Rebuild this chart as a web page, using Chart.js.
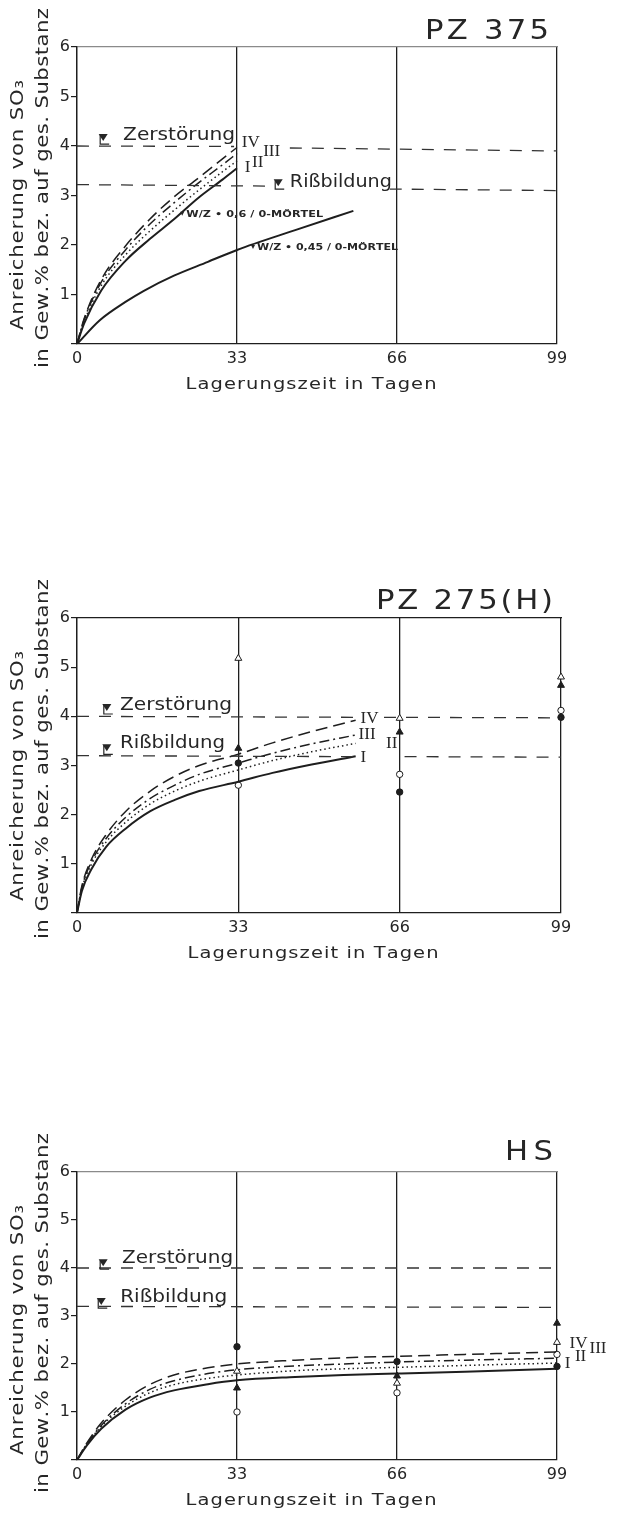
<!DOCTYPE html>
<html>
<head>
<meta charset="utf-8">
<script src="https://cdn.jsdelivr.net/npm/chart.js@4.4.1/dist/chart.umd.min.js"></script>
<style>
  body { margin: 0; background: #fff; width: 617px; height: 1516px; position: relative; overflow: hidden; }
  .panel { position: absolute; left: 0; width: 617px; }
</style>
</head>
<body>
<div class="panel" style="top:0;height:400px"><canvas id="pz375" width="617" height="400"></canvas></div>
<div class="panel" style="top:540px;height:440px"><canvas id="pz275" width="617" height="440"></canvas></div>
<div class="panel" style="top:1090px;height:426px"><canvas id="hs" width="617" height="426"></canvas></div>
<script>
// --- PZ 375 ---
const pz375Days = [0, 1.5, 5, 10, 15, 20, 25, 30, 33];
const pz375I = [0, 0.42, 1.08, 1.68, 2.12, 2.52, 2.95, 3.32, 3.55];
const pz375II = [0, 0.46, 1.18, 1.8, 2.28, 2.7, 3.1, 3.48, 3.7];
const pz375III = [0, 0.5, 1.25, 1.9, 2.42, 2.85, 3.25, 3.62, 3.85];
const pz375IV = [0, 0.52, 1.3, 1.98, 2.52, 2.97, 3.35, 3.74, 3.97];
const pz375Wz045Days = [0, 4.7, 10, 13.7, 20, 27, 33, 45, 57];
const pz375Wz045 = [0, 0.48, 0.85, 1.07, 1.38, 1.66, 1.9, 2.3, 2.69];
const pz375ZerstDays = [0, 32.4, 38, 43.9, 99];
const pz375Zerst = [4.0, 3.99, null, 3.96, 3.9];
const pz375RissDays = [0, 39.5, 50, 64.5, 99];
const pz375Riss = [3.22, 3.19, null, 3.13, 3.1];

// --- PZ 275 (H) ---
const pz275Days = [0, 1, 3, 6, 10, 15, 20, 25, 33, 40, 48, 57];
const pz275I = [0, 0.45, 0.9, 1.35, 1.72, 2.07, 2.3, 2.48, 2.67, 2.85, 3.02, 3.19];
const pz275II = [0, 0.5, 1.0, 1.45, 1.85, 2.22, 2.48, 2.68, 2.91, 3.1, 3.28, 3.45];
const pz275III = [0, 0.52, 1.05, 1.52, 1.95, 2.33, 2.6, 2.82, 3.05, 3.25, 3.44, 3.62];
const pz275IV = [0, 0.55, 1.1, 1.6, 2.07, 2.48, 2.78, 3.0, 3.23, 3.46, 3.69, 3.92];
const pz275MeasureDays = [33, 66, 99];
const pz275FilledCircle = [3.05, 2.46, 3.98];
const pz275OpenCircle = [2.6, 2.82, 4.12];
const pz275FilledTriangle = [3.35, 3.68, 4.63];
const pz275OpenTriangle = [5.18, 3.96, 4.8];
const pz275ZerstDays = [0, 57.5, 60, 62.8, 99];
const pz275Zerst = [4.0, 3.98, null, 3.98, 3.97];
const pz275RissDays = [0, 57.3, 62, 67, 99];
const pz275Riss = [3.2, 3.18, null, 3.18, 3.17];

// --- HS ---
const hsDays = [0, 2, 5, 10, 15, 20, 27, 33, 45, 55, 66, 80, 99];
const hsI = [0, 0.3, 0.65, 1.05, 1.3, 1.45, 1.58, 1.66, 1.73, 1.77, 1.8, 1.84, 1.9];
const hsII = [0, 0.32, 0.7, 1.12, 1.4, 1.57, 1.7, 1.77, 1.86, 1.9, 1.93, 1.97, 2.02];
const hsIII = [0, 0.33, 0.72, 1.17, 1.47, 1.65, 1.8, 1.88, 1.96, 2.0, 2.04, 2.08, 2.12];
const hsIV = [0, 0.35, 0.77, 1.25, 1.57, 1.77, 1.92, 2.0, 2.08, 2.13, 2.16, 2.2, 2.25];
const hsMeasureDays = [33, 66, 99];
const hsFilledCircle = [2.36, 2.05, 1.95];
const hsOpenCircle = [1.0, 1.4, 2.2];
const hsFilledTriangle = [1.5, 1.75, 2.85];
const hsOpenTriangle = [1.85, 1.6, 2.45];
const hsZerstDays = [0, 99];
const hsZerst = [4.0, 4.0];
const hsRissDays = [0, 99];
const hsRiss = [3.2, 3.18];

const xTickValues = [0, 33, 66, 99];

const SANS = '"DejaVu Sans", sans-serif';
const SERIF = '"Liberation Serif", serif';
const INK = '#1e1e1e';
const TEXT = '#262626';

const SOLID = [];
const DOTTED = [1.5, 3];
const DASHDOT = [10, 4, 2, 4];
const DASHED = [12, 6];
const LEVEL_DASH = [12, 10];

function curve(days, values, dash, width) {
  return {
    type: 'line',
    data: days.map((d, i) => ({ x: d, y: values[i] })),
    borderColor: INK,
    borderWidth: width || 1.5,
    borderDash: dash,
    pointRadius: 0,
    cubicInterpolationMode: 'monotone',
    fill: false,
  };
}

function level(days, values) {
  return {
    type: 'line',
    data: days.map((d, i) => ({ x: d, y: values[i] })),
    borderColor: '#333',
    borderWidth: 1.3,
    borderDash: LEVEL_DASH,
    pointRadius: 0,
    tension: 0,
    spanGaps: false,
    fill: false,
  };
}

function measured(days, values, shape, filled) {
  return {
    type: 'scatter',
    data: days.map((d, i) => ({ x: d, y: values[i] })),
    pointStyle: shape,
    pointRadius: shape === 'triangle' ? 4 : 3.2,
    pointBackgroundColor: filled ? INK : '#fff',
    pointBorderColor: INK,
    pointBorderWidth: 1,
    clip: false,
  };
}

// text fitted to a width: stretch the glyphs a little, spread the rest
function spaced(ctx, text, x, y, font, width, align) {
  ctx.font = font;
  const chars = Array.from(text);
  const widths = chars.map((c) => ctx.measureText(c).width);
  const natural = widths.reduce((s, w) => s + w, 0);
  const total = width || natural;
  const sx = width ? Math.min(Math.max(width / natural, 0.85), 1.18) : 1;
  const gap = width ? (width - natural * sx) / Math.max(chars.length - 1, 1) : 0;
  let cx = align === 'center' ? x - total / 2 : align === 'right' ? x - total : x;
  ctx.textAlign = 'left';
  chars.forEach((c, i) => {
    ctx.save();
    ctx.translate(cx, y);
    ctx.scale(sx, 1);
    ctx.fillText(c, 0, 0);
    ctx.restore();
    cx += widths[i] * sx + gap;
  });
}

function rotated(ctx, text, cx, cy, font, width) {
  ctx.save();
  ctx.translate(cx, cy);
  ctx.rotate(-Math.PI / 2);
  spaced(ctx, text, 0, 0, font, width, 'center');
  ctx.restore();
}

function levelMark(ctx, px, py) {
  ctx.beginPath();
  ctx.moveTo(px - 4.5, py - 4);
  ctx.lineTo(px + 4.5, py - 4);
  ctx.lineTo(px, py + 3);
  ctx.closePath();
  ctx.fill();
  ctx.beginPath();
  ctx.moveTo(px - 3, py - 3);
  ctx.lineTo(px - 3, py + 6);
  ctx.lineTo(px + 6, py + 6);
  ctx.stroke();
}

const panelText = {
  id: 'panelText',
  afterDraw(chart, args, o) {
    const { ctx, chartArea: a, scales: { x, y } } = chart;
    ctx.save();
    ctx.fillStyle = TEXT;
    ctx.strokeStyle = TEXT;
    ctx.lineWidth = 1.2;
    ctx.textBaseline = 'middle';

    spaced(ctx, o.title, a.right + o.titleDx, a.top + o.titleDy, '26px ' + SANS, o.titleWidth, 'right');

    rotated(ctx, 'Anreicherung von SO₃', 18, a.top + 158, '18px ' + SANS, 250);
    rotated(ctx, 'in Gew.% bez. auf ges. Substanz', 43, a.top + 141, '18px ' + SANS, 360);
    spaced(ctx, 'Lagerungszeit in Tagen', (a.left + a.right) / 2 - 6, a.bottom + 41, '16.5px ' + SANS, 251, 'center');

    for (const n of o.levels) {
      levelMark(ctx, x.getPixelForValue(n.mx), y.getPixelForValue(n.my));
      spaced(ctx, n.text, x.getPixelForValue(n.x), y.getPixelForValue(n.y), '18px ' + SANS, n.width, 'left');
    }
    for (const n of o.romans) {
      ctx.font = '17px ' + SERIF;
      ctx.textAlign = 'left';
      ctx.fillText(n.text, x.getPixelForValue(n.x), y.getPixelForValue(n.y));
    }
    for (const n of o.notes) {
      const px = x.getPixelForValue(n.x);
      const py = y.getPixelForValue(n.y);
      ctx.beginPath();
      ctx.moveTo(px - 2, py - 3);
      ctx.lineTo(px + 2, py - 3);
      ctx.lineTo(px, py + 1);
      ctx.closePath();
      ctx.fill();
      spaced(ctx, n.text, px + 4, py, 'bold 9.5px ' + SANS, n.width, 'left');
    }
    ctx.restore();
  },
};

function buildPanel(p) {
  const canvas = document.getElementById(p.id);
  const H = canvas.height;
  const tickFont = { family: SANS, size: 16 };
  return new Chart(canvas, {
    type: 'line',
    data: { datasets: p.datasets },
    options: {
      responsive: false,
      animation: false,
      layout: { padding: { top: p.box.top, right: 617 - p.box.right, left: 0, bottom: 0 } },
      plugins: {
        legend: { display: false },
        tooltip: { enabled: false },
        panelText: p.text,
      },
      scales: {
        x: {
          type: 'linear',
          min: 0,
          max: 99,
          afterBuildTicks: (s) => { s.ticks = xTickValues.map((v) => ({ value: v })); },
          ticks: { font: tickFont, color: TEXT, padding: 5, maxRotation: 0, autoSkip: false },
          grid: { color: INK, lineWidth: 1.3, drawTicks: false },
          border: { color: INK, width: 1.3 },
          afterFit: (s) => { s.height = H - p.box.bottom; },
        },
        xTop: {
          type: 'linear',
          position: 'top',
          min: 0,
          max: 99,
          ticks: { display: false },
          grid: { display: false },
          border: { color: p.topColor, width: 1.3 },
          afterFit: (s) => { s.height = 0; },
        },
        y: {
          min: 0,
          max: 6,
          ticks: { stepSize: 1, font: tickFont, color: TEXT, padding: 1, callback: (v) => (v === 0 ? '' : v) },
          grid: { drawOnChartArea: false, tickLength: 6, color: INK, lineWidth: 1.2 },
          border: { color: INK, width: 1.3 },
          afterFit: (s) => { s.width = p.box.left; },
        },
      },
    },
    plugins: [panelText],
  });
}

buildPanel({
  id: 'pz375',
  box: { left: 77, right: 557, top: 47, bottom: 344 },
  topColor: '#8a8a8a',
  datasets: [
    level(pz375ZerstDays, pz375Zerst),
    level(pz375RissDays, pz375Riss),
    curve(pz375Days, pz375IV, DASHED),
    curve(pz375Days, pz375III, DASHDOT),
    curve(pz375Days, pz375II, DOTTED),
    curve(pz375Days, pz375I, SOLID, 2),
    curve(pz375Wz045Days, pz375Wz045, SOLID, 2),
  ],
  text: {
    title: 'PZ 375', titleWidth: 124, titleDx: -8, titleDy: -15,
    levels: [
      { text: 'Zerstörung', x: 9.5, y: 4.22, width: 112, mx: 5.4, my: 4.16 },
      { text: 'Rißbildung', x: 43.9, y: 3.27, width: 102, mx: 41.5, my: 3.25 },
    ],
    romans: [
      { text: 'IV', x: 34.0, y: 4.08 },
      { text: 'III', x: 38.4, y: 3.88 },
      { text: 'II', x: 36.1, y: 3.66 },
      { text: 'I', x: 34.6, y: 3.56 },
    ],
    notes: [
      { text: 'W/Z • 0,6 / 0-MÖRTEL', x: 21.7, y: 2.61, width: 137 },
      { text: 'W/Z • 0,45 / 0-MÖRTEL', x: 36.3, y: 1.94, width: 141 },
    ],
  },
});

buildPanel({
  id: 'pz275',
  box: { left: 77, right: 561, top: 78, bottom: 373 },
  topColor: INK,
  datasets: [
    level(pz275ZerstDays, pz275Zerst),
    level(pz275RissDays, pz275Riss),
    curve(pz275Days, pz275IV, DASHED),
    curve(pz275Days, pz275III, DASHDOT),
    curve(pz275Days, pz275II, DOTTED),
    curve(pz275Days, pz275I, SOLID, 2),
    measured(pz275MeasureDays, pz275OpenTriangle, 'triangle', false),
    measured(pz275MeasureDays, pz275FilledTriangle, 'triangle', true),
    measured(pz275MeasureDays, pz275OpenCircle, 'circle', false),
    measured(pz275MeasureDays, pz275FilledCircle, 'circle', true),
  ],
  text: {
    title: 'PZ 275(H)', titleWidth: 177, titleDx: -8, titleDy: -16,
    levels: [
      { text: 'Zerstörung', x: 8.8, y: 4.23, width: 112, mx: 6.1, my: 4.17 },
      { text: 'Rißbildung', x: 8.8, y: 3.46, width: 105, mx: 6.1, my: 3.35 },
    ],
    romans: [
      { text: 'IV', x: 58.0, y: 3.96 },
      { text: 'III', x: 57.6, y: 3.62 },
      { text: 'II', x: 63.2, y: 3.45 },
      { text: 'I', x: 58.0, y: 3.17 },
    ],
    notes: [],
  },
});

buildPanel({
  id: 'hs',
  box: { left: 77, right: 557, top: 82, bottom: 370 },
  topColor: '#8a8a8a',
  datasets: [
    level(hsZerstDays, hsZerst),
    level(hsRissDays, hsRiss),
    curve(hsDays, hsIV, DASHED),
    curve(hsDays, hsIII, DASHDOT),
    curve(hsDays, hsII, DOTTED),
    curve(hsDays, hsI, SOLID, 2),
    measured(hsMeasureDays, hsOpenTriangle, 'triangle', false),
    measured(hsMeasureDays, hsFilledTriangle, 'triangle', true),
    measured(hsMeasureDays, hsOpenCircle, 'circle', false),
    measured(hsMeasureDays, hsFilledCircle, 'circle', true),
  ],
  text: {
    title: 'HS', titleWidth: 48, titleDx: -4, titleDy: -19,
    levels: [
      { text: 'Zerstörung', x: 9.3, y: 4.21, width: 111, mx: 5.4, my: 4.1 },
      { text: 'Rißbildung', x: 8.9, y: 3.38, width: 107, mx: 5.0, my: 3.29 },
    ],
    romans: [
      { text: 'IV', x: 101.6, y: 2.42 },
      { text: 'III', x: 105.7, y: 2.33 },
      { text: 'II', x: 102.7, y: 2.15 },
      { text: 'I', x: 100.6, y: 2.0 },
    ],
    notes: [],
  },
});
</script>
</body>
</html>
